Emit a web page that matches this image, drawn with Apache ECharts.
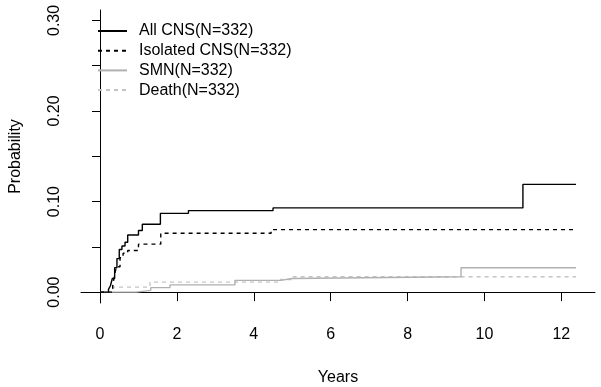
<!DOCTYPE html>
<html>
<head>
<meta charset="utf-8">
<script src="https://cdn.jsdelivr.net/npm/echarts@6/dist/echarts.min.js"></script>
<style>
  html, body { margin: 0; padding: 0; background: #fff; }
  #chart { width: 601px; height: 387px; }
</style>
</head>
<body>
<div id="chart"></div>
<script>
// step curves: time (years) and cumulative probability
const allCnsT = [0, 0.22, 0.27, 0.32, 0.38, 0.44, 0.50, 0.57, 0.65, 0.72, 1.00, 1.10, 1.57, 2.30, 4.50, 11.00, 12.38];
const allCnsP = [0, 0.003, 0.007, 0.015, 0.027, 0.037, 0.047, 0.051, 0.055, 0.063, 0.068, 0.075, 0.087, 0.090, 0.093, 0.119, 0.119];

const isoT = [0, 0.33, 0.38, 0.43, 0.52, 0.60, 0.72, 1.00, 1.58, 4.45, 12.38];
const isoP = [0, 0.007, 0.020, 0.028, 0.038, 0.043, 0.046, 0.053, 0.065, 0.069, 0.069];

const smnT = [0, 0.94, 1.32, 1.82, 3.51, 4.70, 5.00, 9.39, 12.38];
const smnP = [0, 0.002, 0.005, 0.008, 0.013, 0.015, 0.017, 0.027, 0.027];

const deathT = [0, 0.34, 1.30, 4.70, 5.00, 12.38];
const deathP = [0, 0.0055, 0.011, 0.014, 0.017, 0.017];

const seriesNames = ['All CNS(N=332)', 'Isolated CNS(N=332)', 'SMN(N=332)', 'Death(N=332)'];
const xTicks = [0, 2, 4, 6, 8, 10, 12];
const yTicks = [0, 0.05, 0.10, 0.15, 0.20, 0.25, 0.30];
const yLabels = [0, 0.10, 0.20, 0.30];

const font = 'Liberation Sans, Arial, sans-serif';
const pairs = (t, p) => t.map((v, i) => [v, p[i]]);

const chart = echarts.init(document.getElementById('chart'));

function stepLine(name, t, p, color, type, z) {
    return {
        name: name,
        type: 'line',
        step: 'end',
        symbol: 'none',
        z: z,
        lineStyle: {color: color, width: 1.4, type: type},
        itemStyle: {color: color},
        data: pairs(t, p),
    };
}

chart.setOption({
    animation: false,
    grid: {left: 81, top: 10, width: 514, height: 293, outerBoundsMode: 'none'},
    legend: {
        orient: 'vertical',
        left: 97,
        top: 23,
        padding: 0,
        itemWidth: 29,
        itemHeight: 14,
        itemGap: 3.7,
        itemStyle: {opacity: 0},
        textStyle: {fontFamily: font, fontSize: 16, color: '#000', padding: [0, 0, 0, 7]},
        data: seriesNames,
    },
    xAxis: {
        type: 'value',
        min: -0.495,
        max: 12.875,
        name: 'Years',
        nameLocation: 'middle',
        nameGap: 67,
        nameTextStyle: {fontFamily: font, fontSize: 16, color: '#000'},
        splitLine: {show: false},
        axisLine: {lineStyle: {color: '#000', width: 1}},
        axisTick: {show: true, length: 9, customValues: xTicks, lineStyle: {color: '#000'}},
        axisLabel: {
            customValues: xTicks,
            margin: 24,
            fontFamily: font,
            fontSize: 16,
            color: '#000',
        },
    },
    yAxis: {
        type: 'value',
        min: -0.012,
        max: 0.3115,
        name: 'Probability',
        nameLocation: 'middle',
        nameGap: 57,
        nameRotate: 90,
        nameTextStyle: {fontFamily: font, fontSize: 16, color: '#000'},
        splitLine: {show: false},
        axisLine: {show: true, lineStyle: {color: '#000', width: 1}},
        axisTick: {show: true, length: 8, customValues: yTicks, lineStyle: {color: '#000'}},
        axisLabel: {
            customValues: yLabels,
            rotate: 90,
            margin: 18,
            fontFamily: font,
            fontSize: 16,
            color: '#000',
            formatter: (v) => v.toFixed(2),
        },
    },
    series: [
        stepLine(seriesNames[0], allCnsT, allCnsP, '#000', 'solid', 5),
        stepLine(seriesNames[1], isoT, isoP, '#000', [4, 4], 4),
        stepLine(seriesNames[2], smnT, smnP, '#b0b0b0', 'solid', 3),
        stepLine(seriesNames[3], deathT, deathP, '#c4c4c4', [4, 4], 2),
    ],
});
</script>
</body>
</html>
